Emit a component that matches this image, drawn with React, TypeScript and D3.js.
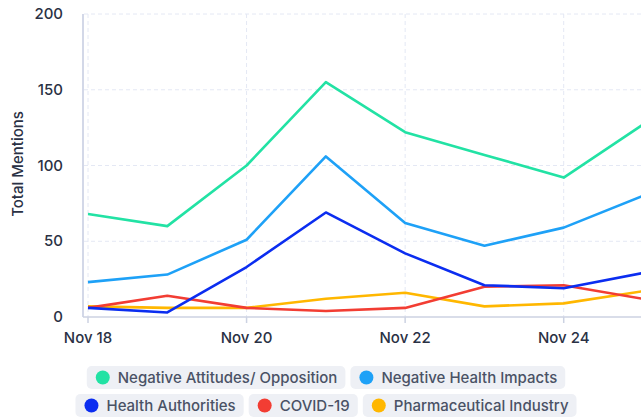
import React, { useEffect, useRef } from 'react';
import * as d3 from 'd3';

const dates = ['2023-11-18', '2023-11-19', '2023-11-20', '2023-11-21', '2023-11-22', '2023-11-23', '2023-11-24', '2023-11-25'];

const negativeAttitudes = [68, 60, 100, 155, 122, 107, 92, 127];
const negativeHealth = [23, 28, 51, 106, 62, 47, 59, 80];
const healthAuthorities = [6, 3, 33, 69, 42, 21, 19, 29];
const covid19 = [6, 14, 6, 4, 6, 20, 21, 12];
const pharma = [7, 6, 6, 12, 16, 7, 9, 17];

const seriesNames = ['Negative Attitudes/ Opposition', 'Negative Health Impacts', 'Health Authorities', 'COVID-19', 'Pharmaceutical Industry'];
const seriesColors = ['#22e2a4', '#1ea1f7', '#0b2df0', '#f23d33', '#ffb700'];
const seriesValues = [negativeAttitudes, negativeHealth, healthAuthorities, covid19, pharma];
const legendRows = [[0, 1], [2, 3, 4]];

const yTicks = [0, 50, 100, 150, 200];

const W = 641;
const H = 417;
const FONT = 'Inter, "Noto Sans", sans-serif';

const App: React.FC = () => {
  const ref = useRef<SVGSVGElement | null>(null);

  useEffect(() => {
    if (!ref.current) return;
    const svg = d3.select(ref.current);
    svg.selectAll('*').remove();

    const parse = d3.utcParse('%Y-%m-%d');
    const xDates = dates.map(d => parse(d) as Date);

    const x = d3.scaleUtc().domain([xDates[0], xDates[xDates.length - 1]]).range([88, 643]);
    const y = d3.scaleLinear().domain([0, 200]).range([317, 14]);
    const axisX = 83;

    const xTickDates = xDates.filter((_, i) => i % 2 === 0);
    const fmt = d3.utcFormat('%b %-d');

    // grid
    svg.append('g')
      .selectAll('line')
      .data(yTicks.filter(t => t > 0))
      .enter().append('line')
      .attr('x1', axisX + 1).attr('x2', W)
      .attr('y1', d => y(d)).attr('y2', d => y(d))
      .attr('stroke', '#e4e8f4').attr('stroke-width', 1).attr('stroke-dasharray', '4,3');

    svg.append('g')
      .selectAll('line')
      .data(xTickDates)
      .enter().append('line')
      .attr('x1', d => x(d)).attr('x2', d => x(d))
      .attr('y1', y(200)).attr('y2', y(0))
      .attr('stroke', '#e4e8f4').attr('stroke-width', 1).attr('stroke-dasharray', '4,3');

    // axis lines
    svg.append('line')
      .attr('x1', axisX).attr('x2', axisX).attr('y1', y(200)).attr('y2', y(0))
      .attr('stroke', '#c5cbe0').attr('stroke-width', 1.5);
    svg.append('line')
      .attr('x1', axisX).attr('x2', W).attr('y1', y(0)).attr('y2', y(0))
      .attr('stroke', '#ccd2e2').attr('stroke-width', 1.5);

    // x ticks
    svg.append('g')
      .selectAll('line')
      .data(xTickDates)
      .enter().append('line')
      .attr('x1', d => x(d)).attr('x2', d => x(d))
      .attr('y1', y(0)).attr('y2', y(0) + 6)
      .attr('stroke', '#ccd2e2').attr('stroke-width', 1.5);

    svg.append('g')
      .selectAll('text')
      .data(xTickDates)
      .enter().append('text')
      .attr('x', d => x(d)).attr('y', 343)
      .attr('text-anchor', 'middle')
      .style('font-family', FONT).style('font-size', '15px').style('font-weight', 500)
      .attr('fill', '#2a3144')
      .text(d => fmt(d));

    svg.append('g')
      .selectAll('text')
      .data(yTicks)
      .enter().append('text')
      .attr('x', 63).attr('y', d => y(d) + 5)
      .attr('text-anchor', 'end')
      .style('font-family', FONT).style('font-size', '15px').style('font-weight', 500)
      .attr('fill', '#2a3144')
      .text(d => d);

    svg.append('text')
      .attr('transform', 'translate(23,164) rotate(-90)')
      .attr('text-anchor', 'middle')
      .style('font-family', FONT).style('font-size', '15px').style('font-weight', 500)
      .attr('fill', '#2a3144')
      .text('Total Mentions');

    // lines
    const line = d3.line<number>()
      .x((_, i) => x(xDates[i]))
      .y(d => y(d));

    const order = [4, 3, 2, 1, 0];
    svg.append('g')
      .selectAll('path')
      .data(order)
      .enter().append('path')
      .attr('d', i => line(seriesValues[i]))
      .attr('fill', 'none')
      .attr('stroke', i => seriesColors[i])
      .attr('stroke-width', 2.6)
      .attr('stroke-linejoin', 'round');

    // legend
    const rowTops = [366, 394];
    const pillH = 23;
    const gap = 5;
    const legendCenter = 326;
    legendRows.forEach((row, r) => {
      const g = svg.append('g');
      const items = row.map(i => {
        const item = g.append('g');
        const rect = item.append('rect')
          .attr('height', pillH).attr('rx', 5).attr('fill', '#eef0f5');
        item.append('circle')
          .attr('cx', 16).attr('cy', pillH / 2).attr('r', 7).attr('fill', seriesColors[i]);
        const t = item.append('text')
          .attr('x', 31).attr('y', pillH / 2 + 5.5)
          .style('font-family', FONT).style('font-size', '15px').style('font-weight', 500)
          .attr('fill', '#4a5265')
          .text(seriesNames[i]);
        const w = 31 + (t.node() as SVGTextElement).getComputedTextLength() + 8;
        rect.attr('width', w);
        return { item, w };
      });
      const total = d3.sum(items, d => d.w) + gap * (items.length - 1);
      let cx = legendCenter - total / 2;
      items.forEach(({ item, w }) => {
        item.attr('transform', `translate(${cx},${rowTops[r]})`);
        cx += w + gap;
      });
    });
  }, []);

  return (
    <svg ref={ref} width={W} height={H}
      style={{ position: 'absolute', left: 0, top: 0, background: '#fff' }} />
  );
};

export default App;
